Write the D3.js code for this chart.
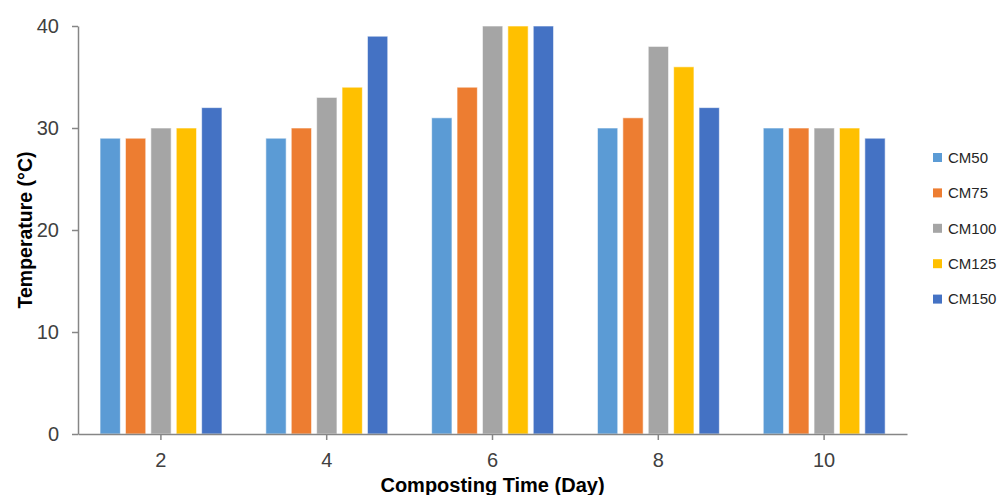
<!DOCTYPE html>
<html>
<head>
<meta charset="utf-8">
<script src="https://cdn.jsdelivr.net/npm/d3@7"></script>
<style>
  body { margin: 0; background: #fff; }
  text { font-family: "Liberation Sans", Arial, sans-serif; }
</style>
</head>
<body>
<script>
var days = ["2", "4", "6", "8", "10"];
var seriesNames = ["CM50", "CM75", "CM100", "CM125", "CM150"];
var colors = ["#5B9BD5", "#ED7D31", "#A5A5A5", "#FFC000", "#4472C4"];
var CM50 = [29, 29, 31, 30, 30];
var CM75 = [29, 30, 34, 31, 30];
var CM100 = [30, 33, 40, 38, 30];
var CM125 = [30, 34, 40, 36, 30];
var CM150 = [32, 39, 40, 32, 29];
var yTicks = [0, 10, 20, 30, 40];

var seriesValues = [CM50, CM75, CM100, CM125, CM150];

var margin = {top: 26, right: 90, bottom: 61, left: 78},
    width = 997 - margin.left - margin.right,
    height = 495 - margin.top - margin.bottom;

var svg = d3.select("body").append("svg")
    .attr("width", 997)
    .attr("height", 495)
  .append("g")
    .attr("transform", "translate(" + margin.left + "," + margin.top + ")");

var x0 = d3.scaleBand().domain(days).range([0, width]).padding(0);
var x1 = d3.scaleBand().domain(seriesNames)
    .range([19.5, 146.5]).paddingInner(0.2).paddingOuter(0.1);
var y = d3.scaleLinear().domain([0, 40]).range([height, 0]);

// bars
days.forEach(function(day, i) {
  svg.append("g")
      .attr("transform", "translate(" + x0(day) + ",0)")
    .selectAll("rect")
    .data(seriesNames)
    .enter().append("rect")
      .attr("x", function(s) { return x1(s); })
      .attr("y", function(s, j) { return y(seriesValues[j][i]); })
      .attr("width", x1.bandwidth())
      .attr("height", function(s, j) { return height - y(seriesValues[j][i]); })
      .attr("fill", function(s, j) { return colors[j]; })
      .attr("stroke", "#fff")
      .attr("stroke-opacity", 0.6)
      .attr("stroke-width", 1);
});

// axes
var xAxis = svg.append("g")
    .attr("transform", "translate(0," + height + ")")
    .call(d3.axisBottom(x0).tickSize(6).tickSizeOuter(0));
var yAxis = svg.append("g")
    .call(d3.axisLeft(y).tickValues(yTicks).tickSize(6).tickSizeOuter(0).tickPadding(13));

[xAxis, yAxis].forEach(function(a) {
  a.select(".domain").attr("stroke", "#868686").attr("stroke-width", 1.5);
  a.selectAll(".tick line").attr("stroke", "#868686").attr("stroke-width", 1.5);
  a.selectAll(".tick text").attr("fill", "#404040").style("font-size", "20px");
});
xAxis.selectAll(".tick text").attr("y", 33).attr("dy", 0);

// axis titles
svg.append("text")
    .attr("x", width / 2)
    .attr("y", height + 58)
    .attr("text-anchor", "middle")
    .style("font-size", "20px")
    .style("font-weight", "bold")
    .attr("fill", "#000")
    .text("Composting Time (Day)");

svg.append("text")
    .attr("transform", "translate(-46," + (height / 2) + ") rotate(-90)")
    .attr("text-anchor", "middle")
    .style("font-size", "19.5px")
    .style("font-weight", "bold")
    .attr("fill", "#000")
    .text("Temperature (°C)");

// legend
var legend = svg.append("g")
    .attr("transform", "translate(" + (933 - margin.left) + "," + (157.5 - margin.top) + ")");
seriesNames.forEach(function(s, j) {
  var g = legend.append("g").attr("transform", "translate(0," + (j * 35.4) + ")");
  g.append("rect").attr("x", 0).attr("y", -4.5).attr("width", 9).attr("height", 9).attr("fill", colors[j]);
  g.append("text").attr("x", 15).attr("y", 0).attr("dy", "0.35em")
      .style("font-size", "15px").attr("fill", "#262626").text(s);
});
</script>
</body>
</html>
